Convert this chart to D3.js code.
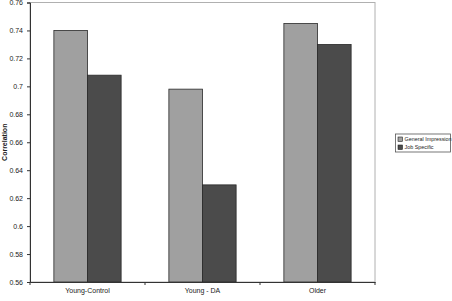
<!DOCTYPE html>
<html>
<head>
<meta charset="utf-8">
<script src="https://cdn.jsdelivr.net/npm/d3@7"></script>
<style>
body { margin: 0; background: #fff; }
text { font-family: "Liberation Sans", Arial, sans-serif; }
</style>
</head>
<body>
<svg></svg>
<script>
// Data
const categories = ["Young-Control", "Young - DA", "Older"];
const seriesNames = ["General Impression", "Job Specific"];
const generalImpression = [0.740, 0.698, 0.745];
const jobSpecific = [0.708, 0.6295, 0.730];
const yTicks = [0.56, 0.58, 0.6, 0.62, 0.64, 0.66, 0.68, 0.7, 0.72, 0.74, 0.76];
const colors = ["#a0a0a0", "#4b4b4b"];

const width = 452, height = 301;
const margin = { left: 30, right: 77, top: 2.5, bottom: 19 };

const svg = d3.select("svg")
  .attr("width", width)
  .attr("height", height);

const x0 = d3.scaleBand()
  .domain(categories)
  .range([margin.left, width - margin.right]);

const x1 = d3.scaleBand()
  .domain(seriesNames)
  .range([0, x0.bandwidth()])
  .paddingInner(0)
  .paddingOuter(0.71);

const y = d3.scaleLinear()
  .domain([0.56, 0.76])
  .range([height - margin.bottom, margin.top]);

// plot border (top & right light grey)
svg.append("rect")
  .attr("x", margin.left)
  .attr("y", margin.top)
  .attr("width", width - margin.right - margin.left)
  .attr("height", height - margin.bottom - margin.top)
  .attr("fill", "none")
  .attr("stroke", "#b0b0b0")
  .attr("stroke-width", 1);

const rows = categories.map((c, i) => ({ cat: c, vals: [generalImpression[i], jobSpecific[i]] }));

svg.append("g")
  .selectAll("g")
  .data(rows)
  .join("g")
  .attr("transform", d => `translate(${x0(d.cat)},0)`)
  .selectAll("rect")
  .data(d => d.vals.map((v, j) => ({ name: seriesNames[j], v, j })))
  .join("rect")
  .attr("x", d => x1(d.name))
  .attr("y", d => y(d.v))
  .attr("width", x1.bandwidth())
  .attr("height", d => y(0.56) - y(d.v))
  .attr("fill", d => colors[d.j])
  .attr("stroke", "#2a2a2a")
  .attr("stroke-width", 0.8);

// y axis
const yAxis = svg.append("g")
  .attr("transform", `translate(${margin.left},0)`)
  .call(d3.axisLeft(y).tickValues(yTicks).tickSize(3).tickFormat(d => String(+d.toFixed(2))));
yAxis.select(".domain").attr("stroke", "#333");
yAxis.selectAll(".tick line").attr("stroke", "#333");
yAxis.selectAll("text").attr("font-size", 7).attr("fill", "#222").attr("dx", -1);

// x axis
const xAxis = svg.append("g")
  .attr("transform", `translate(0,${height - margin.bottom})`)
  .call(d3.axisBottom(x0).tickSize(0));
xAxis.select(".domain").attr("stroke", "#333");
xAxis.selectAll("text").attr("font-size", 7).attr("fill", "#222").attr("dy", "1.15em");
// boundary ticks between categories
xAxis.selectAll(".sep")
  .data(categories)
  .join("line")
  .attr("class", "sep")
  .attr("x1", d => x0(d) + x0.bandwidth())
  .attr("x2", d => x0(d) + x0.bandwidth())
  .attr("y1", 0)
  .attr("y2", 3)
  .attr("stroke", "#333");
xAxis.append("line")
  .attr("x1", margin.left).attr("x2", margin.left)
  .attr("y1", 0).attr("y2", 3).attr("stroke", "#333");

// y label
svg.append("text")
  .attr("transform", `translate(7,${(y(0.56) + y(0.76)) / 2}) rotate(-90)`)
  .attr("text-anchor", "middle")
  .attr("font-size", 7)
  .attr("font-weight", "bold")
  .attr("fill", "#222")
  .text("Correlation");

// legend
const legend = svg.append("g").attr("transform", "translate(395.5,134)");
legend.append("rect")
  .attr("width", 55).attr("height", 18)
  .attr("fill", "#fff").attr("stroke", "#555").attr("stroke-width", 0.8);
const li = legend.selectAll("g.item")
  .data(seriesNames)
  .join("g")
  .attr("class", "item")
  .attr("transform", (d, i) => `translate(2.5,${3 + i * 8})`);
li.append("rect")
  .attr("width", 4.5).attr("height", 4.5)
  .attr("fill", (d, i) => colors[i])
  .attr("stroke", "#222").attr("stroke-width", 0.6);
li.append("text")
  .attr("x", 6.5).attr("y", 2.5)
  .attr("dy", "0.35em")
  .attr("font-size", 5.4)
  .attr("fill", "#222")
  .text(d => d);
</script>
</body>
</html>
